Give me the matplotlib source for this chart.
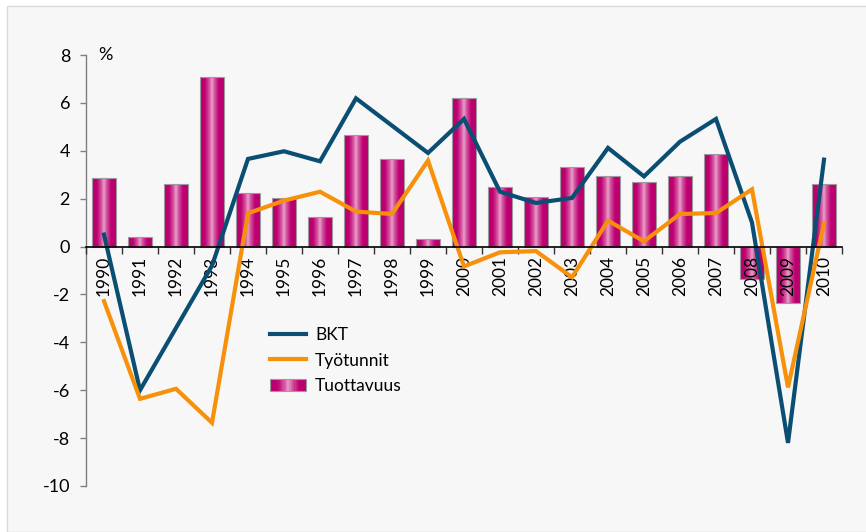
import numpy as np
import matplotlib
matplotlib.use("Agg")
import matplotlib.pyplot as plt
from matplotlib.patches import Rectangle
from matplotlib.lines import Line2D
from matplotlib.legend_handler import HandlerBase
from matplotlib.colors import LinearSegmentedColormap

plt.rcParams['font.family'] = ['Lato', 'DejaVu Sans']

# data (annual change, %)
years = [str(y) for y in range(1990, 2011)]
bkt = [0.5, -6.0, -3.4, -0.8, 3.66, 3.98, 3.56, 6.19, 5.05, 3.91, 5.33,
       2.29, 1.82, 2.03, 4.12, 2.93, 4.38, 5.33, 1.0, -8.2, 3.63]
tyotunnit = [-2.28, -6.36, -5.94, -7.36, 1.39, 1.92, 2.29, 1.46, 1.36, 3.59, -0.83,
             -0.24, -0.19, -1.28, 1.08, 0.22, 1.36, 1.40, 2.39, -5.88, 0.97]
tuottavuus = [2.87, 0.39, 2.61, 7.09, 2.24, 2.03, 1.24, 4.66, 3.67, 0.32, 6.20,
              2.50, 2.09, 3.34, 2.96, 2.71, 2.96, 3.87, -1.35, -2.35, 2.61]
yticks = list(range(-10, 9, 2))

blue = '#0a4e73'
orange = '#f7900a'
# bar shading: pale stripe in the middle, magenta at the sides
cmap = LinearSegmentedColormap.from_list('bar', ['#eaa6cf', '#d24d9a', '#bd0072', '#b8006c'])
grad = np.abs(np.linspace(-1, 1, 64)) ** 0.8

fig = plt.figure(figsize=(8.66, 5.32), dpi=100, facecolor='white')
# light gray panel behind everything
fig.patches.append(Rectangle((7 / 866, 0), 1, 1 - 6 / 532, transform=fig.transFigure,
                             facecolor='#f7f7f7', edgecolor='#d9d9d9', lw=1, zorder=-10))

ax = fig.add_axes([86 / 866, 1 - 486 / 532, 756 / 866, 431 / 532])
ax.set_facecolor('none')

x = np.arange(len(years))
bars = ax.bar(x, tuottavuus, width=0.66, facecolor='none', edgecolor='#a09aa0', lw=0.8, zorder=3)
for b in bars:
    x0, y0, w, h = b.get_x(), b.get_y(), b.get_width(), b.get_height()
    im = ax.imshow(grad[None, :], extent=(x0, x0 + w, y0, y0 + h), aspect='auto',
                   cmap=cmap, vmin=0, vmax=1, zorder=2)
    im.set_clip_path(b)

ax.plot(x, bkt, color=blue, lw=3, zorder=4, solid_joinstyle='miter')
ax.plot(x, tyotunnit, color=orange, lw=3, zorder=5, solid_joinstyle='miter')

ax.set_xlim(-0.5, len(years) - 0.5)
ax.set_ylim(-10, 8)

# axes
for s in ['top', 'right']:
    ax.spines[s].set_visible(False)
ax.spines['bottom'].set_position(('data', 0))
ax.spines['bottom'].set_color('black')
ax.spines['bottom'].set_linewidth(1.2)
ax.spines['bottom'].set_zorder(6)
ax.spines['left'].set_color('#7f7f7f')
ax.spines['left'].set_linewidth(1)

ax.set_xticks(x)
ax.set_xticklabels(years, rotation=90, fontsize=12.5)
ax.set_xticks(np.arange(-0.5, len(years), 1), minor=True)
ax.tick_params(axis='x', which='major', length=0, pad=6.5)
ax.tick_params(axis='x', which='minor', length=5, width=1, color='#333333', direction='out')
# year labels sit above the bars but below the lines
ax.xaxis.set_zorder(3.5)

ax.set_yticks(yticks)
ax.set_yticklabels([str(v) for v in yticks], fontsize=13)
ax.tick_params(axis='y', length=4.5, width=1, color='#7f7f7f', pad=7)

ax.text(-0.17, 8, '%', fontsize=13, ha='left', va='center')


class GradientHandler(HandlerBase):
    def create_artists(self, legend, orig_handle, xdescent, ydescent, width, height, fontsize, trans):
        n = 30
        arts = []
        for i in range(n):
            c = cmap(abs((i + 0.5) / n * 2 - 1) ** 0.8)
            arts.append(Rectangle((-xdescent + width * i / n, -ydescent), width / n, height,
                                  facecolor=c, edgecolor='none', transform=trans))
        arts.append(Rectangle((-xdescent, -ydescent), width, height, facecolor='none',
                              edgecolor='#a09aa0', lw=0.8, transform=trans))
        return arts


handles = [Line2D([], [], color=blue, lw=3), Line2D([], [], color=orange, lw=3),
           Rectangle((0, 0), 1, 1)]
ax.legend(handles, ['BKT', 'Työtunnit', 'Tuottavuus'],
          handler_map={Rectangle: GradientHandler()},
          loc='upper left', bbox_to_anchor=(270 / 866, 1 - 327 / 532),
          bbox_transform=fig.transFigure, frameon=False, fontsize=12.5,
          borderpad=0, borderaxespad=0, handlelength=2.1, handletextpad=0.5,
          labelspacing=0.55)

fig.savefig('out.png', dpi=100, facecolor=fig.get_facecolor())
